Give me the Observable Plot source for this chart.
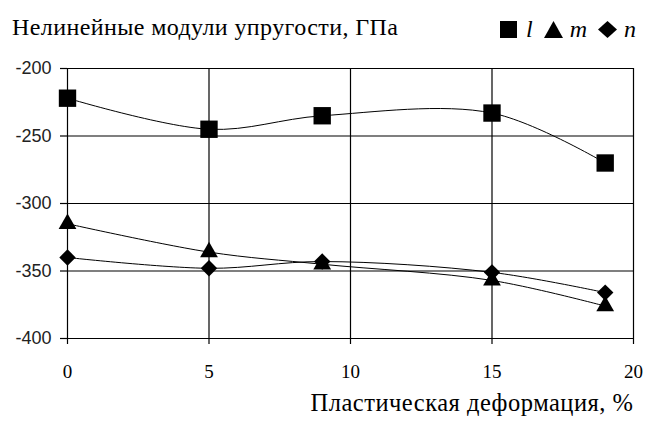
<!DOCTYPE html>
<html>
<head>
<meta charset="utf-8">
<script src="https://cdn.jsdelivr.net/npm/d3@7"></script>
<script src="https://cdn.jsdelivr.net/npm/@observablehq/plot@0.6"></script>
<style>
  html, body { margin: 0; padding: 0; background: #fff; }
  #wrap { position: relative; width: 650px; height: 427px; }
  #wrap svg.plot { position: absolute; left: 0; top: 0; }
  #wrap svg.plot g.xlabel text { letter-spacing: 0.5px; }
  #title { position: absolute; left: 12px; top: 14px; font-family: "Liberation Serif", "DejaVu Serif", serif; font-size: 24px; letter-spacing: 0.4px; color: #000; white-space: nowrap; }
  #legend { position: absolute; left: 500px; top: 16px; font-family: "Liberation Serif", "DejaVu Serif", serif; font-size: 24px; font-style: italic; color: #000; display: flex; align-items: center; white-space: nowrap; }
  #legend .item { display: flex; align-items: center; margin-right: 11px; }
  #legend svg { margin-right: 7px; }
</style>
</head>
<body>
<div id="wrap">
  <div id="title"></div>
  <div id="legend"></div>
</div>
<script>
const xValues = [0, 5, 9, 15, 19];
const lValues = [-222, -245, -235, -233, -270];
const mValues = [-315, -336, -345, -357, -376];
const nValues = [-340, -348, -343, -351, -366];
const seriesNames = ["l", "m", "n"];
const xTicks = [0, 5, 10, 15, 20];
const yTicks = [-400, -350, -300, -250, -200];
const titleText = "Нелинейные модули упругости, ГПа";
const xLabel = "Пластическая деформация, %";

const data = [];
[lValues, mValues, nValues].forEach((vals, i) =>
  vals.forEach((v, j) => data.push({series: seriesNames[i], x: xValues[j], y: v}))
);
const bySeries = s => data.filter(d => d.series === s);
const serif = "'Liberation Serif', 'DejaVu Serif', serif";

const chart = Plot.plot({
  width: 650,
  height: 427,
  marginLeft: 67,
  marginRight: 17,
  marginTop: 68,
  marginBottom: 89,
  style: {background: "#fff"},
  x: {domain: [0, 20], ticks: xTicks},
  y: {domain: [-400, -200], ticks: yTicks},
  marks: [
    Plot.gridY(yTicks, {stroke: "#000", strokeOpacity: 1, strokeWidth: 1.2}),
    Plot.gridX(xTicks, {stroke: "#000", strokeOpacity: 1, strokeWidth: 1.2}),
    Plot.axisY({ticks: yTicks, tickSize: 7, tickPadding: 9, label: null, fontSize: 18,
      tickFormat: d => String(d),
      fontFamily: "'Liberation Sans', Arial, sans-serif", fill: "#222", stroke: "#000", strokeWidth: 1.2}),
    Plot.axisX({ticks: xTicks, tickSize: 6, tickPadding: 20, fontSize: 19,
      fontFamily: serif, label: null, stroke: "#000", strokeWidth: 1.2}),
    Plot.text([xLabel], {frameAnchor: "bottom-right", dy: 72, dx: 0, textAnchor: "end",
      fontSize: 24.5, fontFamily: serif, fill: "#000", className: "xlabel"}),
    Plot.line(data, {x: "x", y: "y", z: "series", curve: "catmull-rom", stroke: "#000", strokeWidth: 1}),
    Plot.dot(bySeries("l"), {x: "x", y: "y", symbol: "square", r: 9.8, fill: "#000", stroke: null}),
    Plot.dot(bySeries("m"), {x: "x", y: "y", symbol: "triangle", r: 6.6, fill: "#000", stroke: null}),
    Plot.dot(bySeries("n"), {x: "x", y: "y", symbol: "diamond2", r: 7.4, fill: "#000", stroke: null})
  ]
});
chart.classList.add("plot");
const wrap = document.getElementById("wrap");
wrap.insertBefore(chart, wrap.firstChild);

document.getElementById("title").textContent = titleText;

const legendShapes = {
  l: '<rect x="0" y="0" width="17" height="17" fill="#000"/>',
  m: '<polygon points="9.5,0 19,17 0,17" fill="#000"/>',
  n: '<polygon points="9.5,0 19,8.5 9.5,17 0,8.5" fill="#000"/>'
};
const legend = document.getElementById("legend");
seriesNames.forEach(s => {
  const item = document.createElement("span");
  item.className = "item";
  item.innerHTML = `<svg width="19" height="17">${legendShapes[s]}</svg><span>${s}</span>`;
  legend.appendChild(item);
});
</script>
</body>
</html>
